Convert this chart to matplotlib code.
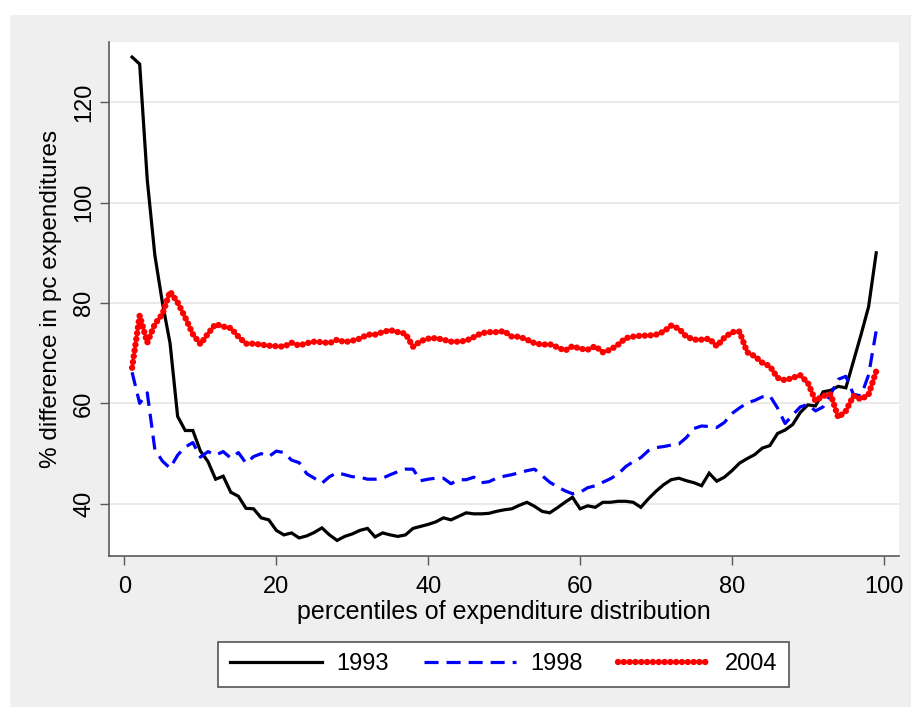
import matplotlib
matplotlib.use("Agg")
import matplotlib.pyplot as plt
from matplotlib.patches import Rectangle
import numpy as np

percentiles = list(range(1, 100))

y1993 = [129.0, 127.6, 104.5, 89.5, 80.0, 72.0, 57.4, 54.6, 54.6, 50.5,
         48.4, 44.9, 45.5, 42.3, 41.5, 39.1, 39.0, 37.2, 36.8, 34.7,
         33.8, 34.2, 33.2, 33.6, 34.3, 35.2, 33.8, 32.7, 33.5, 34.0,
         34.7, 35.1, 33.4, 34.2, 33.8, 33.5, 33.8, 35.1, 35.5, 35.9,
         36.4, 37.2, 36.8, 37.5, 38.2, 38.0, 38.0, 38.1, 38.5, 38.8,
         39.0, 39.7, 40.3, 39.5, 38.5, 38.2, 39.2, 40.3, 41.3, 39.0,
         39.6, 39.3, 40.3, 40.3, 40.5, 40.5, 40.3, 39.3, 41.0, 42.5,
         43.8, 44.8, 45.1, 44.6, 44.2, 43.6, 46.1, 44.5, 45.3, 46.6,
         48.1, 49.0, 49.8, 51.1, 51.6, 54.0, 54.7, 55.8, 58.2, 59.7,
         59.5, 62.3, 62.6, 63.4, 63.1, 68.4, 73.7, 79.3, 90.0]

y1998 = [66.2, 60.0, 62.1, 50.8, 48.5, 47.1, 49.7, 51.3, 52.2, 49.3,
         50.4, 49.7, 50.4, 49.1, 50.2, 48.1, 49.4, 50.0, 49.4, 50.5,
         50.2, 48.7, 48.2, 46.0, 45.1, 44.1, 45.4, 46.2, 45.8, 45.4,
         45.3, 44.9, 44.9, 45.1, 45.8, 46.4, 46.9, 46.9, 44.6, 44.9,
         45.1, 45.1, 44.0, 44.8, 44.8, 45.3, 44.2, 44.4, 45.1, 45.5,
         45.8, 46.2, 46.6, 46.9, 45.6, 44.3, 43.4, 42.6, 42.0, 42.3,
         43.2, 43.6, 44.3, 45.0, 45.9, 47.4, 48.4, 49.2, 50.6, 51.2,
         51.4, 51.7, 51.9, 53.2, 55.0, 55.5, 55.4, 55.2, 56.2, 58.0,
         59.1, 60.1, 60.6, 61.3, 61.5, 59.1, 56.0, 57.7, 59.3, 59.8,
         58.5, 59.3, 61.8, 64.8, 65.4, 61.8, 61.5, 65.7, 74.5]

y2004 = [67.1, 77.5, 72.1, 75.8, 77.8, 82.3, 80.1, 77.1, 73.8, 71.8,
         73.9, 75.8, 75.3, 75.0, 73.3, 71.9, 71.9, 71.7, 71.5, 71.4,
         71.3, 72.1, 71.5, 72.0, 72.3, 72.2, 72.0, 72.7, 72.2, 72.5,
         72.9, 73.7, 73.7, 74.2, 74.6, 74.2, 73.9, 71.3, 72.4, 72.9,
         73.0, 72.7, 72.3, 72.3, 72.5, 73.2, 74.0, 74.2, 74.2, 74.4,
         73.3, 73.3, 72.7, 72.0, 71.7, 71.8, 71.2, 70.5, 71.4, 70.9,
         70.7, 71.4, 70.2, 70.7, 71.7, 73.0, 73.3, 73.5, 73.5, 73.7,
         74.3, 75.5, 74.9, 73.3, 72.7, 72.7, 72.9, 71.4, 73.1, 74.2,
         74.3, 70.2, 69.4, 68.1, 67.4, 65.1, 64.6, 65.1, 65.6, 64.1,
         60.5, 61.5, 61.8, 57.2, 58.5, 61.5, 60.8, 61.8, 66.4]

series_labels = ["1993", "1998", "2004"]
x_ticks = [0, 20, 40, 60, 80, 100]
y_ticks = [40, 60, 80, 100, 120]
x_title = "percentiles of expenditure distribution"
y_title = "% difference in pc expenditures"

plt.rcParams['font.family'] = ['Liberation Sans', 'DejaVu Sans']

W, H = 912, 707
fig = plt.figure(figsize=(W / 100, H / 100), dpi=100)
fig.patch.set_facecolor('white')
bg = Rectangle((10 / W, 0), 1 - 10 / W, 1 - 15 / H, transform=fig.transFigure,
               facecolor='#EFEFEF', edgecolor='none', zorder=-10)
fig.patches.append(bg)

left, right = 109 / W, 899 / W
top, bottom = 1 - 41.5 / H, 1 - 556 / H
ax = fig.add_axes([left, bottom, right - left, top - bottom])
ax.set_facecolor('white')

ax.plot(percentiles, y1993, color='black', lw=2.3, label=series_labels[0],
        solid_joinstyle='miter')
ax.plot(percentiles, y1998, color='#0000FF', lw=2.3, label=series_labels[1],
        linestyle=(0, (4.4, 2.5)))
ax.plot(percentiles, y2004, color='#FF0000', lw=4.6, label=series_labels[2],
        linestyle=(0, (0.01, 0.9)), dash_capstyle='round')

ax.set_xlim(-2.04, 102.0)
ax.set_ylim(29.6, 132.1)
ax.set_xticks(x_ticks)
ax.set_yticks(y_ticks)
ax.yaxis.grid(True, color='#E3E3E3', lw=1.1)
ax.set_axisbelow(True)

for s in ['top', 'right']:
    ax.spines[s].set_visible(False)
for s in ['left', 'bottom']:
    ax.spines[s].set_color('#5A5A5A')
    ax.spines[s].set_linewidth(1.2)

ax.tick_params(axis='both', direction='out', length=6.5, width=1.0,
               color='#5A5A5A', labelsize=17, labelcolor='black')
ax.tick_params(axis='x', pad=8)
ax.tick_params(axis='y', pad=3.5)
for lbl in ax.get_yticklabels():
    lbl.set_rotation(90)
    lbl.set_va('center')

ax.set_xlabel(x_title, fontsize=18)
ax.xaxis.set_label_coords(0.5, (556 - 600.5) / 514.5)
ax.xaxis.label.set_va('top')
ax.set_ylabel(y_title, fontsize=17.5)
ax.yaxis.set_label_coords((62.5 - 109) / 790, 0.5)

leg = fig.legend(loc='center', bbox_to_anchor=(503.5 / W, 1 - 664.5 / H),
                 ncol=3, fontsize=17, frameon=True, fancybox=False,
                 edgecolor='#555555', facecolor='white', framealpha=1,
                 handlelength=3.9, handletextpad=0.6, columnspacing=1.5,
                 borderpad=0.5, borderaxespad=0)
leg.get_frame().set_linewidth(1.2)

fig.savefig('out.png', dpi=100, facecolor=fig.get_facecolor())
